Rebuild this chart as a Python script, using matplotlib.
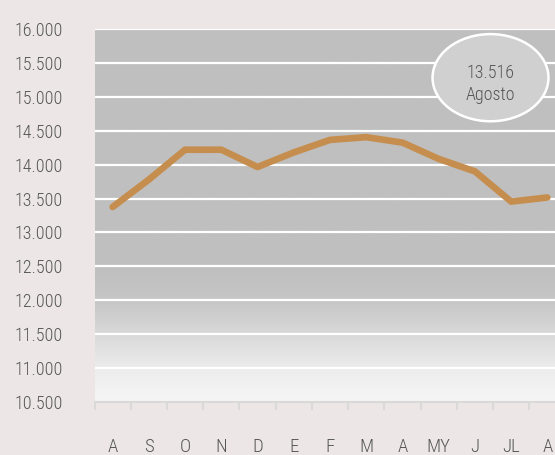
import numpy as np
import matplotlib
matplotlib.use("Agg")
import matplotlib.pyplot as plt
from matplotlib.patches import Ellipse
from matplotlib.colors import LinearSegmentedColormap

months = ["A", "S", "O", "N", "D", "E", "F", "M", "A", "MY", "J", "JL", "A"]
values = [13375, 13780, 14220, 14220, 13965, 14180, 14365, 14405, 14325,
          14085, 13900, 13455, 13516]
y_ticks = [10500, 11000, 11500, 12000, 12500, 13000, 13500, 14000, 14500,
           15000, 15500, 16000]
note_month = "Agosto"

plt.rcParams["font.family"] = ["Liberation Sans Narrow", "Arial Narrow",
                               "Roboto Condensed", "PT Sans Narrow",
                               "Archivo Narrow", "DejaVu Sans"]
plt.rcParams["font.weight"] = "light"
TXT = "#555555"

fig = plt.figure(figsize=(5.55, 4.55), dpi=100, facecolor="#ece6e6")
ax = fig.add_axes([94.5 / 555, 53 / 455, 471 / 555, 373 / 455])
ax.set_facecolor("#bfbfbf")

# background gradient: flat grey on top, fading to near white at the bottom
cmap = LinearSegmentedColormap.from_list(
    "bg", [(0, "#f6f6f6"), (0.09, "#ececec"), (0.18, "#d9d9d9"),
           (0.27, "#c6c6c6"), (0.36, "#bfbfbf"), (1, "#bfbfbf")])
grad = np.linspace(0, 1, 256).reshape(-1, 1)
ax.imshow(grad, origin="lower", cmap=cmap, aspect="auto",
          extent=[-0.5, 12.5, 10500, 16000], zorder=0)

ax.set_xlim(-0.5, 12.5)
ax.set_ylim(10500, 16000)

for yv in y_ticks[1:]:
    ax.axhline(yv, color="white", lw=1.6, zorder=1)

x = np.arange(len(months))
ax.plot(x, values, color="#c68e4e", lw=4.8, solid_capstyle="round",
        solid_joinstyle="round", zorder=3)

ax.add_patch(Ellipse((10.43, 15282), 3.2, 1285, facecolor="#d0d0d0",
                     edgecolor="white", lw=1.8, zorder=4))
ax.text(10.43, 15185, f"{values[-1] / 1000:.3f}\n{note_month}", ha="center",
        va="center", fontsize=13, color=TXT, linespacing=1.3, zorder=5)

for s in ["top", "right", "left"]:
    ax.spines[s].set_visible(False)
ax.spines["bottom"].set_color("#d9d9d9")
ax.spines["bottom"].set_linewidth(1.5)

ax.set_yticks(y_ticks)
ax.set_yticklabels([f"{v / 1000:.3f}" for v in y_ticks])
ax.tick_params(axis="y", length=0, pad=23, labelsize=13, labelcolor=TXT)

ax.set_xticks(x)
ax.set_xticklabels(months)
ax.set_xticks(np.arange(-0.5, 13, 1), minor=True)
ax.tick_params(axis="x", which="major", length=0, pad=26, labelsize=13.5,
               labelcolor=TXT)
ax.tick_params(axis="x", which="minor", length=6, width=1.5, color="#d9d9d9")

fig.savefig("out.png", dpi=100, facecolor=fig.get_facecolor())
